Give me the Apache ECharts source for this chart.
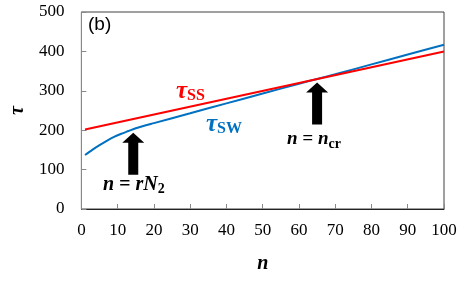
<!DOCTYPE html>
<html><head><meta charset="utf-8">
<script src="https://cdn.jsdelivr.net/npm/echarts@6/dist/echarts.min.js"></script>
<style>html,body{margin:0;padding:0;background:#fff}#c{width:463px;height:285px}</style>
</head><body><div id="c"></div>
<script>
var xTicks = [0,10,20,30,40,50,60,70,80,90,100];
var yTicks = [0,100,200,300,400,500];
var ssN = [1, 100];
var ssTau = [202, 400];
var swN = [1, 3, 5, 7, 9, 11, 13, 15, 20, 30, 40, 50, 60, 65, 70, 80, 90, 100];
var swTau = [137, 150, 162, 173, 183, 191, 198, 205, 218, 243, 268, 293, 318, 330, 342, 367, 392, 417];
var arrowN = [14.3, 65];
var arrowTau = [140, 268];

var serif = 'Liberation Serif';
var arrowPath = 'path://M11,0 L22,10 L16,10 L16,42 L6,42 L6,10 L0,10 Z';
var tickRich = {v: {fontFamily: serif, fontSize: 17, color: '#000'}};
var chart = echarts.init(document.getElementById('c'));
chart.setOption({
  animation: false,
  textStyle: {fontFamily: serif},
  grid: {left: 81, right: 19, top: 12, bottom: 76, show: true, borderColor: '#404040', borderWidth: 1},
  xAxis: {
    type: 'value', min: xTicks[0], max: xTicks[xTicks.length-1], interval: 10,
    name: 'n', nameLocation: 'middle', nameGap: 45,
    nameTextStyle: {fontFamily: serif, fontStyle: 'italic', fontWeight: 'bold', fontSize: 20, color: '#000'},
    axisLine: {lineStyle: {color: '#222', width: 1}},
    axisTick: {inside: true, length: 5, lineStyle: {color: '#888'}},
    axisLabel: {fontFamily: serif, fontSize: 17, color: '#000', margin: 13,
      formatter: function(v){ return '{v|' + v + '}'; }, rich: tickRich},
    splitLine: {show: false}
  },
  yAxis: {
    type: 'value', min: yTicks[0], max: yTicks[yTicks.length-1], interval: 100,
    name: 'τ', nameLocation: 'middle', nameGap: 53, nameRotate: 90,
    nameTextStyle: {fontFamily: serif, fontStyle: 'italic', fontWeight: 'bold', fontSize: 20, color: '#000'},
    axisLine: {show: true, lineStyle: {color: '#888', width: 1}},
    axisTick: {show: true, inside: true, length: 5, lineStyle: {color: '#888'}},
    axisLabel: {fontFamily: serif, fontSize: 17, color: '#000', margin: 17,
      formatter: function(v){ return '{v|' + v + '}'; }, rich: tickRich},
    splitLine: {show: false}
  },
  series: [
    {type: 'line', data: ssN.map(function(n,i){return [n, ssTau[i]];}), showSymbol: false, symbol: 'none',
     lineStyle: {color: '#FF0000', width: 2}, z: 3},
    {type: 'line', data: swN.map(function(n,i){return [n, swTau[i]];}), showSymbol: false, symbol: 'none', smooth: 0.3,
     lineStyle: {color: '#0070C0', width: 2}, z: 2},
    {type: 'scatter', data: arrowN.map(function(n,i){return [n, arrowTau[i]];}), symbol: arrowPath,
     symbolSize: [22, 42], symbolKeepAspect: false, itemStyle: {color: '#000', opacity: 1}, z: 4}
  ],
  graphic: [
    {type: 'text', left: 88, top: 15, style: {text: '(b)', font: '19px "Liberation Sans"', fill: '#000'}},
    {type: 'text', left: 176, top: 79, style: {
      text: '{t|τ}{s|SS}', rich: {
        t: {fontFamily: serif, fontStyle: 'italic', fontWeight: 'bold', fontSize: 25, fill: '#FF0000', color: '#FF0000'},
        s: {fontFamily: serif, fontWeight: 'bold', fontSize: 16, fill: '#FF0000', color: '#FF0000', padding: [9,0,0,0]}
      }}},
    {type: 'text', left: 206, top: 112, style: {
      text: '{t|τ}{s|SW}', rich: {
        t: {fontFamily: serif, fontStyle: 'italic', fontWeight: 'bold', fontSize: 25, fill: '#0070C0', color: '#0070C0'},
        s: {fontFamily: serif, fontWeight: 'bold', fontSize: 16, fill: '#0070C0', color: '#0070C0', padding: [9,0,0,0]}
      }}},
    {type: 'text', left: 103, top: 175, style: {
      text: '{i|n = rN}{s|2}', rich: {
        i: {fontFamily: serif, fontStyle: 'italic', fontWeight: 'bold', fontSize: 20, fill: '#000'},
        s: {fontFamily: serif, fontWeight: 'bold', fontSize: 14, fill: '#000', padding: [9,0,0,0]}
      }}},
    {type: 'text', left: 287, top: 130, style: {
      text: '{i|n = n}{s|cr}', rich: {
        i: {fontFamily: serif, fontStyle: 'italic', fontWeight: 'bold', fontSize: 19, fill: '#000'},
        s: {fontFamily: serif, fontWeight: 'bold', fontSize: 14, fill: '#000', padding: [9,0,0,0]}
      }}}
  ]
});
</script></body></html>
